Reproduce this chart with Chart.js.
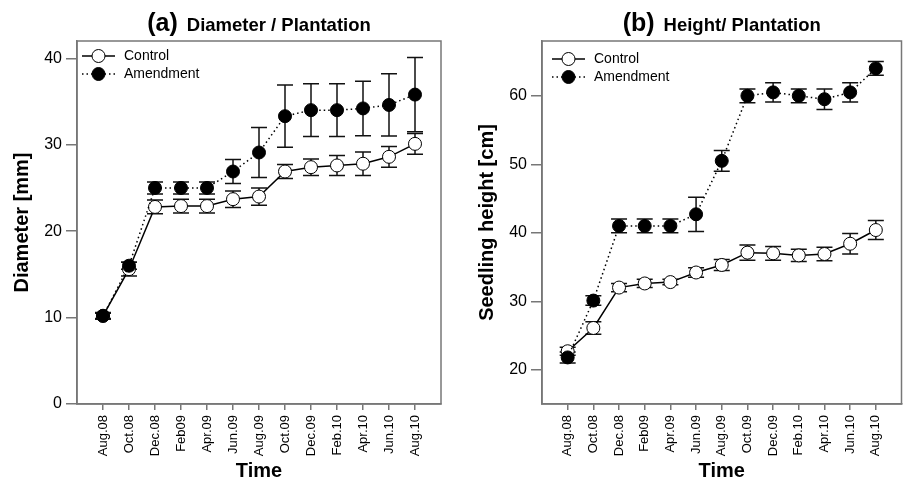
<!DOCTYPE html>
<html>
<head>
<meta charset="utf-8">
<script src="https://cdn.jsdelivr.net/npm/chart.js@4.4.1/dist/chart.umd.min.js"></script>
<style>
  html, body { margin: 0; padding: 0; background: #fff; }
  #wrap { position: relative; width: 909px; height: 489px; }
  .panel { position: absolute; top: 0; height: 489px; }
</style>
</head>
<body>
<div id="wrap">
  <div class="panel" style="left:0;width:455px"><canvas id="chartA"></canvas></div>
  <div class="panel" style="left:455px;width:454px"><canvas id="chartB"></canvas></div>
</div>
<script>
const categories = ['Aug.08', 'Oct.08', 'Dec.08', 'Feb09', 'Apr.09', 'Jun.09', 'Aug.09',
                    'Oct.09', 'Dec.09', 'Feb.10', 'Apr.10', 'Jun.10', 'Aug.10'];

// (a) diameter [mm]
const diaControl     = [10.2, 15.6, 22.8, 22.9, 22.9, 23.7, 24.0, 26.9, 27.4, 27.6, 27.8, 28.6, 30.1];
const diaControlErr  = [0.4, 0.8, 0.8, 0.8, 0.8, 0.95, 1.0, 0.8, 0.95, 1.15, 1.35, 1.2, 1.2];
const diaAmend       = [10.2, 16.0, 25.0, 25.0, 25.0, 26.9, 29.1, 33.3, 34.0, 34.0, 34.2, 34.6, 35.8];
const diaAmendErr    = [0.3, 0.4, 0.7, 0.7, 0.7, 1.4, 2.9, 3.6, 3.05, 3.05, 3.15, 3.6, 4.3];
const diaTicks       = [0, 10, 20, 30, 40];

// (b) seedling height [cm]
const htControl      = [22.7, 26.1, 32.0, 32.6, 32.8, 34.2, 35.3, 37.1, 37.0, 36.7, 36.9, 38.4, 40.4];
const htControlErr   = [0.6, 0.9, 0.6, 0.6, 0.4, 0.7, 0.8, 1.1, 1.0, 0.9, 1.0, 1.5, 1.4];
const htAmend        = [21.8, 30.1, 41.0, 41.0, 41.0, 42.7, 50.5, 60.0, 60.5, 60.0, 59.5, 60.5, 64.0];
const htAmendErr     = [0.8, 0.7, 1.0, 1.0, 1.0, 2.5, 1.5, 1.0, 1.4, 1.0, 1.5, 1.4, 1.0];
const htTicks        = [20, 30, 40, 50, 60];

const FONT = "'Liberation Sans', Arial, sans-serif";
const AXIS_GREY = '#777';

// error bars drawn under the markers
const errorBars = {
  id: 'errorBars',
  beforeDatasetsDraw(chart) {
    const ctx = chart.ctx;
    const xs = chart.scales.x, ys = chart.scales.y;
    ctx.save();
    ctx.strokeStyle = '#111';
    ctx.lineWidth = 1.5;
    chart.data.datasets.forEach(ds => {
      ds.data.forEach((p, i) => {
        const e = ds.errors[i];
        const x = xs.getPixelForValue(p.x);
        const yTop = ys.getPixelForValue(p.y + e);
        const yBot = ys.getPixelForValue(p.y - e);
        ctx.beginPath();
        ctx.moveTo(x, yTop); ctx.lineTo(x, yBot);
        ctx.moveTo(x - 8, yTop); ctx.lineTo(x + 8, yTop);
        ctx.moveTo(x - 8, yBot); ctx.lineTo(x + 8, yBot);
        ctx.stroke();
      });
    });
    ctx.restore();
  }
};

// grey frame, panel title and legend
const frame = {
  id: 'frame',
  afterDraw(chart, args, opts) {
    const ctx = chart.ctx;
    const a = chart.chartArea;
    ctx.save();
    ctx.strokeStyle = AXIS_GREY;
    ctx.lineWidth = 1.5;
    ctx.strokeRect(a.left, a.top, a.right - a.left, a.bottom - a.top);

    // title
    ctx.fillStyle = '#000';
    ctx.textBaseline = 'alphabetic';
    ctx.font = 'bold 25px ' + FONT;
    const w1 = ctx.measureText(opts.tag).width;
    ctx.font = 'bold 18.5px ' + FONT;
    const w2 = ctx.measureText(opts.text).width;
    const gap = 9;
    let x0 = (a.left + a.right) / 2 - (w1 + gap + w2) / 2;
    ctx.font = 'bold 25px ' + FONT;
    ctx.fillText(opts.tag, x0, 31);
    ctx.font = 'bold 18.5px ' + FONT;
    ctx.fillText(opts.text, x0 + w1 + gap, 31);

    // legend
    const lx = a.left + opts.legendX;
    const items = [
      { label: 'Control', y: a.top + opts.legendY, dash: [], fill: '#fff' },
      { label: 'Amendment', y: a.top + opts.legendY + 18, dash: [1.5, 3], fill: '#000' }
    ];
    items.forEach(it => {
      ctx.strokeStyle = '#000';
      ctx.lineWidth = 1.5;
      ctx.setLineDash(it.dash);
      ctx.beginPath();
      ctx.moveTo(lx, it.y); ctx.lineTo(lx + 33, it.y);
      ctx.stroke();
      ctx.setLineDash([]);
      ctx.beginPath();
      ctx.arc(lx + 16.5, it.y, 6.5, 0, Math.PI * 2);
      ctx.fillStyle = it.fill;
      ctx.fill();
      ctx.lineWidth = 1;
      ctx.stroke();
      ctx.fillStyle = '#000';
      ctx.font = '14px ' + FONT;
      ctx.textBaseline = 'middle';
      ctx.fillText(it.label, lx + 42, it.y);
    });
    ctx.restore();
  }
};

function series(values) {
  return values.map((v, i) => ({ x: i, y: v }));
}

function CreatePanel(elementId, opts) {
  const data = {
    datasets: [{
      label: 'Control',
      data: series(opts.control),
      errors: opts.controlErr,
      borderColor: '#000',
      borderWidth: 1.5,
      pointRadius: 6.5,
      pointBackgroundColor: '#fff',
      pointBorderColor: '#000',
      pointBorderWidth: 1,
      order: 2
    }, {
      label: 'Amendment',
      data: series(opts.amend),
      errors: opts.amendErr,
      borderColor: '#000',
      borderWidth: 1.5,
      borderDash: [1.5, 3],
      pointRadius: 6.5,
      pointBackgroundColor: '#000',
      pointBorderColor: '#000',
      pointBorderWidth: 1,
      order: 1
    }]
  };
  const config = {
    type: 'line',
    data: data,
    options: {
      responsive: true,
      maintainAspectRatio: false,
      animation: false,
      layout: { padding: { top: 41, right: opts.padRight, left: 0, bottom: 0 } },
      plugins: {
        legend: { display: false },
        tooltip: { enabled: false },
        frame: { tag: opts.tag, text: opts.title, legendX: opts.legendX, legendY: opts.legendY }
      },
      scales: {
        x: {
          type: 'linear',
          min: -1,
          max: categories.length,
          afterBuildTicks: s => { s.ticks = categories.map((c, i) => ({ value: i })); },
          afterFit: s => { s.height = 85; },
          ticks: {
            autoSkip: false,
            minRotation: 90,
            maxRotation: 90,
            padding: 5,
            color: '#000',
            font: { family: FONT, size: 13 },
            callback: v => categories[v]
          },
          grid: { drawOnChartArea: false, drawTicks: true, tickLength: 6, color: AXIS_GREY, lineWidth: 1.5 },
          border: { display: true, color: AXIS_GREY, width: 1.5 },
          title: {
            display: true, text: 'Time', color: '#000',
            font: { family: FONT, size: 20, weight: 'bold' },
            padding: { top: 0, bottom: 6 }
          }
        },
        y: {
          min: opts.yMin,
          max: opts.yMax,
          afterBuildTicks: s => { s.ticks = opts.yTicks.map(v => ({ value: v })); },
          afterFit: s => { s.width = opts.yWidth; },
          ticks: {
            padding: 4,
            color: '#000',
            font: { family: FONT, size: 16 }
          },
          grid: { drawOnChartArea: false, drawTicks: true, tickLength: 11, color: AXIS_GREY, lineWidth: 1.5 },
          border: { display: true, color: AXIS_GREY, width: 1.5 },
          title: {
            display: true, text: opts.yTitle, color: '#000',
            font: { family: FONT, size: 20, weight: 'bold' },
            padding: { top: opts.yTitlePad, bottom: 0 }
          }
        }
      }
    },
    plugins: [errorBars, frame]
  };
  return new Chart(document.getElementById(elementId), config);
}

CreatePanel('chartA', {
  tag: '(a)', title: 'Diameter / Plantation',
  control: diaControl, controlErr: diaControlErr,
  amend: diaAmend, amendErr: diaAmendErr,
  yMin: 0, yMax: 42, yTicks: diaTicks, yTitle: 'Diameter [mm]',
  yWidth: 77, yTitlePad: 10, padRight: 14,
  legendX: 5, legendY: 15
});

CreatePanel('chartB', {
  tag: '(b)', title: 'Height/ Plantation',
  control: htControl, controlErr: htControlErr,
  amend: htAmend, amendErr: htAmendErr,
  yMin: 15, yMax: 68, yTicks: htTicks, yTitle: 'Seedling height [cm]',
  yWidth: 87, yTitlePad: 20, padRight: 3,
  legendX: 10, legendY: 18
});
</script>
</body>
</html>
